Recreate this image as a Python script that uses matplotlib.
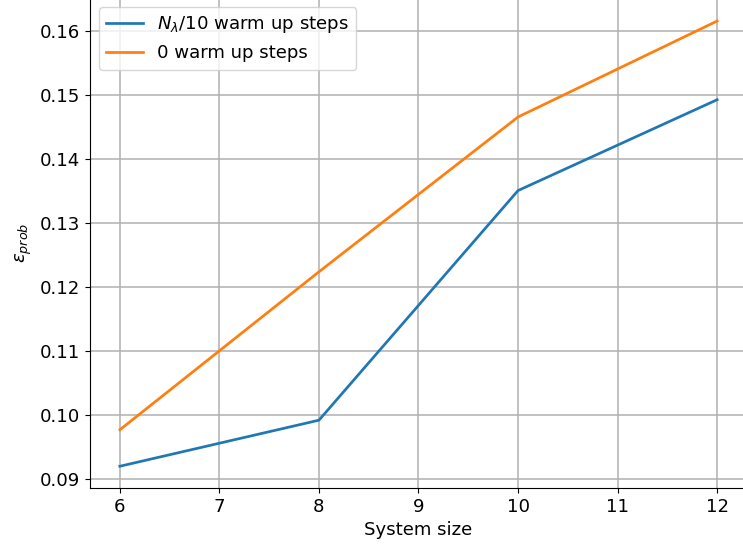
import numpy as np
import matplotlib
matplotlib.use('Agg')
import matplotlib.pyplot as plt

# system sizes and error values
sizes = [6, 8, 10, 12]
eps_warm = [0.0920, 0.0992, 0.1351, 0.1493]
eps_cold = [0.0977, 0.1224, 0.1466, 0.1616]

plt.rcParams.update({'font.size': 13.1})

fig = plt.figure(figsize=(7.43, 5.49), dpi=100)
# axes slightly larger than the canvas: top and right edges get clipped like in the reference
ax = fig.add_axes([90/743, 61/549, 657/743, 490/549])

ax.plot(sizes, eps_warm, '-', color='#1f77b4', linewidth=1.95, label=r'$N_\lambda/10$ warm up steps')
ax.plot(sizes, eps_cold, '-', color='#ff7f0e', linewidth=1.95, label='0 warm up steps')

ax.set_xlim(5.7, 12.3)
ax.set_ylim(0.0886, 0.1652)
ax.set_xticks(range(6, 13))
ax.set_yticks(np.arange(0.09, 0.165, 0.01))
ax.set_xlabel('System size')
ax.set_ylabel(r'$\epsilon_{prob}$')
ax.grid(True, linewidth=1.1)
ax.legend(loc='upper left')

fig.savefig('out.png', dpi=100)
